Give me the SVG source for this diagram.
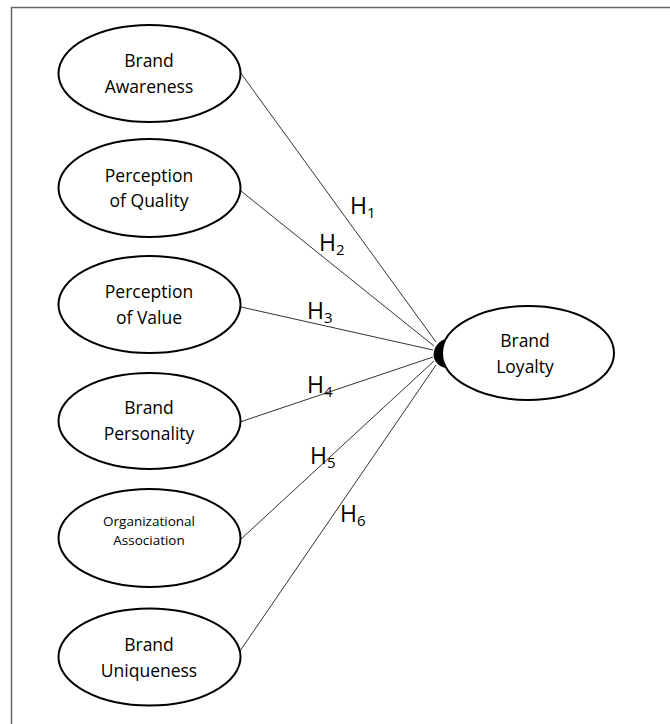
<svg xmlns="http://www.w3.org/2000/svg" width="670" height="724" viewBox="0 0 670 724">
<style>
.node ellipse{fill:#fff;stroke:#000;stroke-width:2}
.lbl{font-family:"Open Sans","Noto Sans",sans-serif;font-size:17.5px;fill:#000;text-anchor:middle}
.small{font-size:13.5px}
.conn line{stroke:#333;stroke-width:1}
.h{font-family:"Open Sans","Noto Sans",sans-serif;font-size:23px;fill:#000}
.h tspan.s{font-size:15px}
</style>
<rect width="670" height="724" fill="#fff"/>
<path d="M11.5,724 V7.5 H670" fill="none" stroke="#666" stroke-width="1.5"/>
<g id="connectors" class="conn">
<line x1="240" y1="72" x2="436" y2="342"/>
<line x1="241" y1="191" x2="434" y2="346"/>
<line x1="241" y1="307" x2="433" y2="350"/>
<line x1="240" y1="422" x2="433" y2="357"/>
<line x1="240" y1="540" x2="434" y2="361"/>
<line x1="240" y1="651" x2="436" y2="365"/>
<path d="M445,339 C433,343 427,362 445,368 C441,360 441,347 445,339 Z" fill="#000" stroke="none"/>
</g>
<g id="labels">
<text class="h" x="350" y="214">H<tspan class="s" dy="4">1</tspan></text>
<text class="h" x="319" y="251">H<tspan class="s" dy="4">2</tspan></text>
<text class="h" x="307" y="319">H<tspan class="s" dy="4">3</tspan></text>
<text class="h" x="307" y="393">H<tspan class="s" dy="4">4</tspan></text>
<text class="h" x="310" y="464">H<tspan class="s" dy="4">5</tspan></text>
<text class="h" x="340" y="522">H<tspan class="s" dy="4">6</tspan></text>
</g>
<g id="brand-awareness" class="node">
<ellipse cx="149.5" cy="73.5" rx="91" ry="48.5"/>
<text class="lbl" x="149" y="67">Brand</text>
<text class="lbl" x="149" y="93">Awareness</text>
</g>
<g id="perception-quality" class="node">
<ellipse cx="149.5" cy="188" rx="91" ry="49"/>
<text class="lbl" x="149" y="182">Perception</text>
<text class="lbl" x="149" y="207">of Quality</text>
</g>
<g id="perception-value" class="node">
<ellipse cx="149.5" cy="304.5" rx="91" ry="48.5"/>
<text class="lbl" x="149" y="298">Perception</text>
<text class="lbl" x="149" y="324">of Value</text>
</g>
<g id="brand-personality" class="node">
<ellipse cx="149.5" cy="421" rx="91" ry="48"/>
<text class="lbl" x="149" y="414">Brand</text>
<text class="lbl" x="149" y="440">Personality</text>
</g>
<g id="organizational-association" class="node">
<ellipse cx="149.5" cy="538" rx="91" ry="49"/>
<text class="lbl small" x="149" y="526">Organizational</text>
<text class="lbl small" x="149" y="545">Association</text>
</g>
<g id="brand-uniqueness" class="node">
<ellipse cx="149.5" cy="657" rx="91" ry="48.5"/>
<text class="lbl" x="149" y="651">Brand</text>
<text class="lbl" x="149" y="677">Uniqueness</text>
</g>
<g id="brand-loyalty" class="node">
<ellipse cx="528" cy="353" rx="86" ry="47"/>
<text class="lbl" x="525" y="347">Brand</text>
<text class="lbl" x="525" y="373">Loyalty</text>
</g>
</svg>
